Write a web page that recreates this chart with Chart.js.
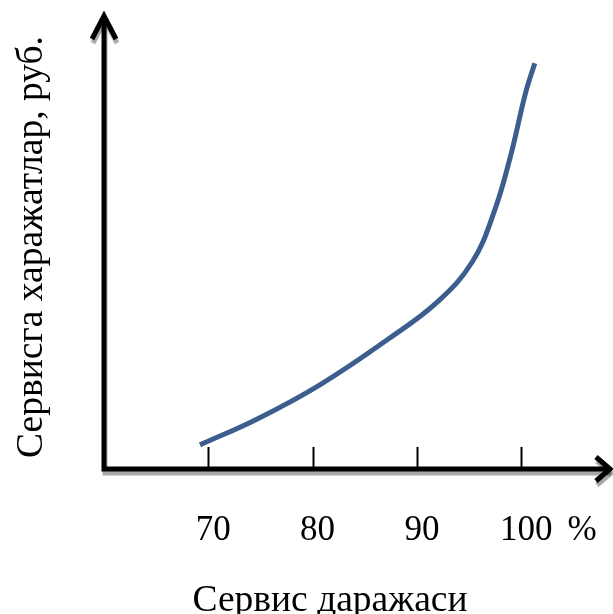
<!DOCTYPE html>
<html>
<head>
<meta charset="utf-8">
<script src="https://cdn.jsdelivr.net/npm/chart.js@4"></script>
<style>
  html, body { margin: 0; padding: 0; background: #fff; }
  #wrap { width: 613px; height: 614px; }
</style>
</head>
<body>
<div id="wrap"><canvas id="chart" width="613" height="614"></canvas></div>
<script>
// service level, %
const serviceLevel = [69.2, 74.7, 80.7, 87.4, 92.0, 95.3, 97.4, 99.0, 100.4, 101.3];
// service costs (relative)
const serviceCost = [5.3, 11.0, 18.5, 28.8, 36.8, 45.5, 56.5, 69.0, 82.5, 89.2];
const xTicks = [70, 80, 90, 100];
const xUnit = '%';
const xTitle = 'Сервис даражаси';
const yTitle = 'Сервисга харажатлар, руб.';

const TICK_FONT = '35px "Liberation Serif", "DejaVu Serif", serif';
const TITLE_FONT = '37.5px "Liberation Serif", "DejaVu Serif", serif';

// axes, arrows, ticks and titles drawn by hand
const axesPlugin = {
  id: 'axes',
  beforeDatasetsDraw(chart) {
    const ctx = chart.ctx;
    const a = chart.chartArea;
    const xs = chart.scales.x;
    const x0 = a.left, y0 = a.bottom;

    ctx.save();
    // tick marks go up from the axis
    ctx.strokeStyle = '#000';
    ctx.lineWidth = 2;
    xTicks.forEach(v => {
      const px = Math.round(xs.getPixelForValue(v)) + 0.5;
      ctx.beginPath();
      ctx.moveTo(px, y0);
      ctx.lineTo(px, y0 - 22);
      ctx.stroke();
    });

    ctx.shadowColor = 'rgba(0,0,0,0.35)';
    ctx.shadowOffsetX = 1;
    ctx.shadowOffsetY = 4;
    ctx.shadowBlur = 1;
    ctx.lineWidth = 5;
    ctx.lineCap = 'butt';
    ctx.lineJoin = 'miter';
    // y axis + x axis
    ctx.beginPath();
    ctx.moveTo(x0, a.top + 3);
    ctx.lineTo(x0, y0);
    ctx.lineTo(a.right - 3, y0);
    ctx.stroke();
    // arrowheads
    ctx.beginPath();
    ctx.moveTo(x0 - 12, a.top + 25);
    ctx.lineTo(x0, a.top + 2);
    ctx.lineTo(x0 + 12, a.top + 25);
    ctx.stroke();
    ctx.beginPath();
    ctx.moveTo(a.right - 17, y0 - 12);
    ctx.lineTo(a.right - 3, y0);
    ctx.lineTo(a.right - 17, y0 + 12);
    ctx.stroke();
    ctx.restore();

    ctx.save();
    ctx.fillStyle = '#000';
    ctx.textAlign = 'center';
    ctx.textBaseline = 'alphabetic';
    ctx.font = TICK_FONT;
    xTicks.forEach(v => {
      ctx.fillText(String(v), xs.getPixelForValue(v) + 5, 540);
    });
    ctx.fillText(xUnit, 582, 540);

    ctx.font = TITLE_FONT;
    ctx.fillText(xTitle, 330, 611);
    ctx.translate(42, 247);
    ctx.rotate(-Math.PI / 2);
    ctx.fillText(yTitle, 0, 0);
    ctx.restore();
  }
};

new Chart(document.getElementById('chart'), {
  type: 'line',
  data: {
    datasets: [{
      data: serviceLevel.map((x, i) => ({ x: x, y: serviceCost[i] })),
      borderColor: '#3B5E8E',
      borderWidth: 5,
      pointRadius: 0,
      tension: 0.4,
      fill: false
    }]
  },
  options: {
    responsive: false,
    animation: false,
    layout: { padding: { left: 104, right: 0, top: 14, bottom: 145 } },
    plugins: { legend: { display: false }, tooltip: { enabled: false } },
    scales: {
      x: { type: 'linear', min: 60, max: 108.8, display: false },
      y: { type: 'linear', min: 0, max: 100, display: false }
    }
  },
  plugins: [axesPlugin]
});
</script>
</body>
</html>
